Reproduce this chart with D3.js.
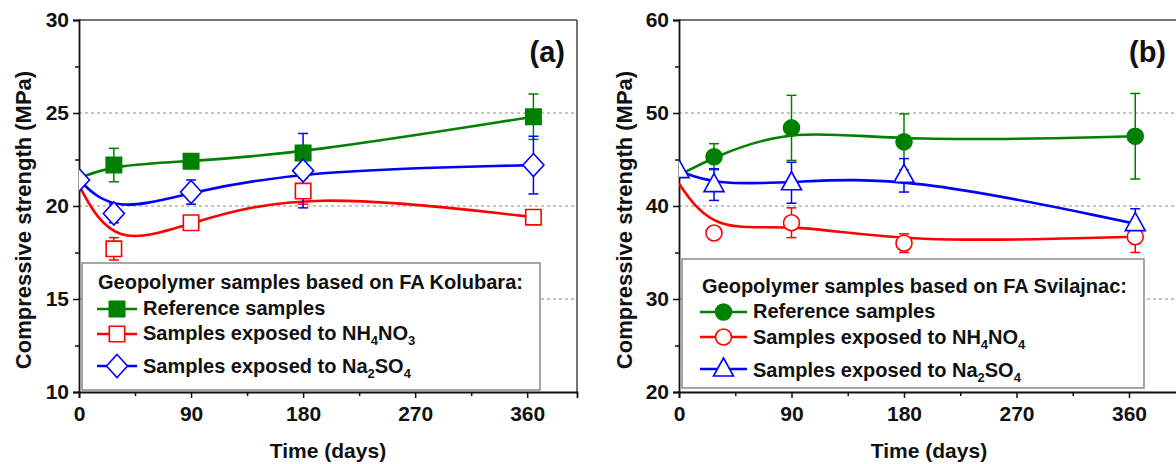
<!DOCTYPE html>
<html><head><meta charset="utf-8">
<script src="https://cdn.jsdelivr.net/npm/d3@7/dist/d3.min.js"></script>
<style>
body{margin:0;background:#fff;}
text{font-family:"Liberation Sans",Arial,sans-serif;font-weight:bold;fill:#111;}
</style></head>
<body><svg id="c" width="1176" height="464"></svg>
<script>
// ---- data ----
const days = [0, 28, 90, 180, 365];
const xTicks = [0, 90, 180, 270, 360];
// Panel (a) FA Kolubara
const kolRef = [21.5, 22.2, 22.4, 22.85, 24.8];
const kolRefErr = [0, 0.9, 0.2, 0.4, 1.22];
const kolNH = [21.1, 17.7, 19.1, 20.8, 19.4];
const kolNHErr = [0, 0.6, 0.2, 0.7, 0.2];
const kolNa = [21.4, 19.6, 20.75, 21.9, 22.2];
const kolNaErr = [0, 0.5, 0.65, 2.0, 1.55];
const kolYTicks = [10, 15, 20, 25, 30];
// Panel (b) FA Svilajnac
const svRef = [43.3, 45.3, 48.4, 46.9, 47.5];
const svRefErr = [0, 1.4, 3.5, 3.0, 4.6];
const svNH = [42.4, 37.1, 38.2, 36.0, 36.7];
const svNHErr = [0, 0.4, 1.6, 1.0, 1.7];
const svNa = [43.8, 42.3, 42.5, 43.3, 38.1];
const svNaErr = [0, 1.7, 2.2, 1.8, 1.6];
const svYTicks = [20, 30, 40, 50, 60];

const GREEN = "#008000", RED = "#ff0000", BLUE = "#0000ff";
const svg = d3.select("#c");

function markerPath(type){
  if(type==="square") return "M-7.7,-7.7H7.7V7.7H-7.7Z";
  if(type==="diamond") return "M0,-11.5L10.5,0L0,11.5L-10.5,0Z";
  if(type==="circle") return d3.symbol(d3.symbolCircle, Math.PI*64)();
  if(type==="triangle") return "M0,-11L10,7L-10,7Z";
}

function panel(cfg){
  const g = svg.append("g");
  const x = d3.scaleLinear().domain([0,400]).range([cfg.x0, cfg.x1]);
  const y = d3.scaleLinear().domain(cfg.yDomain).range([392, 20]);
  const clipId = "clip"+cfg.id;
  svg.append("clipPath").attr("id", clipId).append("rect")
    .attr("x", cfg.x0).attr("y", 20).attr("width", cfg.x1-cfg.x0).attr("height", 372);

  // grid
  g.selectAll(".grid").data(cfg.grid).join("line")
    .attr("x1", cfg.x0).attr("x2", cfg.x1)
    .attr("y1", d=>y(d)).attr("y2", d=>y(d))
    .attr("stroke", "#8a8a8a").attr("stroke-width", 1).attr("stroke-dasharray", "3,3");

  // frame top/right
  g.append("line").attr("x1", cfg.x0).attr("x2", cfg.x1).attr("y1", 20).attr("y2", 20)
    .attr("stroke", "#444").attr("stroke-width", 1.5);
  g.append("line").attr("x1", cfg.x1).attr("x2", cfg.x1).attr("y1", 20).attr("y2", 392)
    .attr("stroke", "#444").attr("stroke-width", 1.5);

  // axes
  const yMinor = [];
  for(let i=0;i<cfg.yTicks.length-1;i++) yMinor.push((cfg.yTicks[i]+cfg.yTicks[i+1])/2);
  g.append("g").attr("transform", `translate(${cfg.x0},0)`)
    .call(d3.axisLeft(y).tickValues(cfg.yTicks).tickSize(6).tickPadding(4).tickFormat(d3.format("d")));
  g.append("g").attr("transform", `translate(${cfg.x0},0)`)
    .call(d3.axisLeft(y).tickValues(yMinor).tickSize(4).tickFormat(""))
    .call(s=>s.select(".domain").remove());
  const bx = g.append("g").attr("transform", `translate(0,392)`)
    .call(d3.axisBottom(x).tickValues(xTicks).tickSize(6).tickPadding(5).tickFormat(d3.format("d")));
  g.append("g").attr("transform", `translate(0,392)`)
    .call(d3.axisBottom(x).tickValues([45,135,225,315]).tickSize(4).tickFormat(""))
    .call(s=>s.select(".domain").remove());
  g.selectAll(".domain").attr("stroke", "#111").attr("stroke-width", 1.8);
  g.selectAll(".tick line").attr("stroke", "#111").attr("stroke-width", 1.5);
  g.selectAll(".tick text").style("font-size", "21px").attr("fill", "#111");
  bx.selectAll(".tick text").attr("dy", "0.85em");

  // axis titles
  g.append("text").attr("transform", `translate(${cfg.yTitleX},220) rotate(-90)`)
    .attr("text-anchor", "middle").attr("dominant-baseline", "central")
    .style("font-size", "22px").text("Compressive strength (MPa)");
  g.append("text").attr("x", (cfg.x0+cfg.x1)/2).attr("y", 458)
    .attr("text-anchor", "middle").style("font-size", "21px").text("Time (days)");
  g.append("text").attr("x", cfg.labelX).attr("y", 62)
    .attr("text-anchor", "end").style("font-size", "29px").text(cfg.label);

  // series
  const plot = g.append("g").attr("clip-path", `url(#${clipId})`);
  cfg.series.forEach(s=>{
    const pts = days.map((d,i)=>({d, v:s.values[i], e:s.err[i]}));
    plot.append("path").datum(pts)
      .attr("d", d3.line().x(p=>x(p.d)).y(p=>y(p.v)).curve(d3.curveBasis))
      .attr("fill", "none").attr("stroke", s.color).attr("stroke-width", 2.6);
  });
  cfg.series.forEach(s=>{
    const pts = days.map((d,i)=>({d, v:s.values[i], e:s.err[i]})).filter(p=>p.e>0);
    const eg = plot.append("g").attr("stroke", s.color).attr("stroke-width", 1.5);
    pts.forEach(p=>{
      eg.append("line").attr("x1", x(p.d)).attr("x2", x(p.d)).attr("y1", y(p.v+p.e)).attr("y2", y(p.v-p.e));
      [p.v+p.e, p.v-p.e].forEach(v=>eg.append("line").attr("x1", x(p.d)-5).attr("x2", x(p.d)+5).attr("y1", y(v)).attr("y2", y(v)));
    });
  });
  cfg.series.forEach(s=>{
    const pts = days.map((d,i)=>({d, v:s.values[i]})).filter((p,i)=>i>0 || s.showZero);
    plot.selectAll(null).data(pts).join("path")
      .attr("d", markerPath(s.marker))
      .attr("transform", p=>`translate(${x(p.d)},${y(p.v)})`)
      .attr("fill", s.filled ? s.color : "#fff")
      .attr("stroke", s.color).attr("stroke-width", 1.6);
  });

  // legend
  const L = cfg.legend;
  g.append("rect").attr("x", L.x).attr("y", L.y).attr("width", L.w).attr("height", L.h)
    .attr("fill", "#fff").attr("stroke", "#8a8a8a").attr("stroke-width", 1.5);
  g.append("text").attr("x", L.titleX).attr("y", L.titleY).style("font-size", "20px").text(L.title);
  cfg.series.forEach((s,i)=>{
    const ly = L.lineY[i];
    g.append("line").attr("x1", L.lx0).attr("x2", L.lx1).attr("y1", ly).attr("y2", ly)
      .attr("stroke", s.color).attr("stroke-width", 2.6);
    g.append("path").attr("d", markerPath(s.marker))
      .attr("transform", `translate(${(L.lx0+L.lx1)/2},${ly})`)
      .attr("fill", s.filled ? s.color : "#fff").attr("stroke", s.color).attr("stroke-width", 1.6);
    const t = g.append("text").attr("x", L.textX).attr("y", L.textY[i]).style("font-size", "20px");
    s.name.forEach(part=>{
      if(part.sub) t.append("tspan").attr("dy", 5).style("font-size", "13px").text(part.t);
      else t.append("tspan").attr("dy", part.after ? -5 : 0).text(part.t);
    });
  });
}

panel({
  id: "a", x0: 79, x1: 577, yDomain: [10,30], yTicks: kolYTicks, grid: [15,20,25],
  yTitleX: 23, label: "(a)", labelX: 565,
  series: [
    {values: kolRef, err: kolRefErr, color: GREEN, marker: "square", filled: true,
     name: [{t:"Reference samples"}]},
    {values: kolNH, err: kolNHErr, color: RED, marker: "square", filled: false,
     name: [{t:"Samples exposed to NH"},{t:"4",sub:true},{t:"NO",after:true},{t:"3",sub:true}]},
    {values: kolNa, err: kolNaErr, color: BLUE, marker: "diamond", filled: false, showZero: true,
     name: [{t:"Samples exposed to Na"},{t:"2",sub:true},{t:"SO",after:true},{t:"4",sub:true}]}
  ],
  legend: {x: 82, y: 263, w: 458, h: 127, title: "Geopolymer samples based on FA Kolubara:",
    titleX: 98, titleY: 289, lx0: 97, lx1: 137, textX: 143,
    lineY: [309, 334, 366], textY: [315, 340, 373]}
});

panel({
  id: "b", x0: 679, x1: 1179, yDomain: [20,60], yTicks: svYTicks, grid: [30,40,50],
  yTitleX: 624, label: "(b)", labelX: 1166,
  series: [
    {values: svRef, err: svRefErr, color: GREEN, marker: "circle", filled: true,
     name: [{t:"Reference samples"}]},
    {values: svNH, err: svNHErr, color: RED, marker: "circle", filled: false,
     name: [{t:"Samples exposed to NH"},{t:"4",sub:true},{t:"NO",after:true},{t:"4",sub:true}]},
    {values: svNa, err: svNaErr, color: BLUE, marker: "triangle", filled: false, showZero: true,
     name: [{t:"Samples exposed to Na"},{t:"2",sub:true},{t:"SO",after:true},{t:"4",sub:true}]}
  ],
  legend: {x: 682, y: 259, w: 462, h: 129, title: "Geopolymer samples based on FA Svilajnac:",
    titleX: 702, titleY: 293, lx0: 700, lx1: 747, textX: 753,
    lineY: [312, 337, 369], textY: [318, 344, 377]}
});
</script></body></html>
